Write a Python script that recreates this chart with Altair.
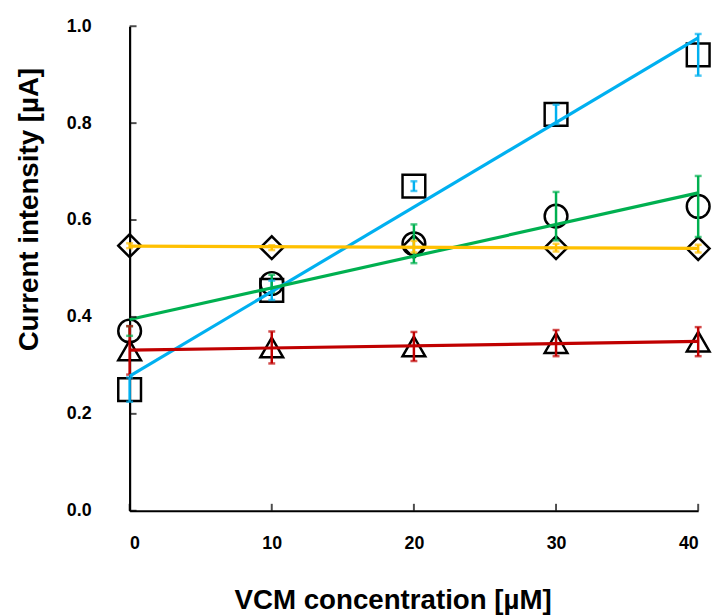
import altair as alt
import pandas as pd

# ---- data ----
conc = [0, 10, 20, 30, 40]
series_names = ["square", "circle", "diamond", "triangle"]
square_y = [0.250, 0.455, 0.670, 0.818, 0.941]
square_err = [0.025, 0.020, 0.010, 0.020, 0.043]
circle_y = [0.371, 0.469, 0.551, 0.608, 0.628]
circle_err = [0.010, 0.018, 0.040, 0.050, 0.063]
diamond_y = [0.547, 0.543, 0.545, 0.543, 0.541]
diamond_err = [0.005, 0.005, 0.012, 0.008, 0.008]
triangle_y = [0.331, 0.337, 0.339, 0.346, 0.349]
triangle_err = [0.050, 0.033, 0.030, 0.027, 0.030]

line_colors = ["#00B0F0", "#00B050", "#FFC000", "#C00000"]
shapes = ["square", "circle", "diamond", "triangle-up"]
sizes = [529, 529, 784, 841]

y_ticks = [0.0, 0.2, 0.4, 0.6, 0.8, 1.0]
x_ticks = [0, 10, 20, 30, 40]

rows = []
for name, ys, es in [("square", square_y, square_err), ("circle", circle_y, circle_err),
                     ("diamond", diamond_y, diamond_err), ("triangle", triangle_y, triangle_err)]:
    for x, y, e in zip(conc, ys, es):
        rows.append({"series": name, "x": x, "y": y, "lo": y - e, "hi": y + e})
df = pd.DataFrame(rows)

W, H = 575, 490

xs = alt.Scale(domain=[0, 40], nice=False, zero=False)
ys = alt.Scale(domain=[0, 1.0], nice=False)

color = alt.Color("series:N", scale=alt.Scale(domain=series_names, range=line_colors), legend=None)

base = alt.Chart(df)

xaxis = alt.Axis(values=x_ticks, format="d", title="VCM concentration [µM]",
                 labelPadding=24, titleX=266, titleY=91, titleBaseline="middle",
                 titleAlign="center")
yaxis = alt.Axis(values=y_ticks, format=".1f", title="Current intensity [µA]",
                 labelPadding=39, titleX=-101, titleY=185, titleBaseline="middle",
                 titleAlign="center", titleAngle=270)

markers = base.mark_point(filled=False, stroke="black", strokeWidth=2.5, opacity=1).encode(
    x=alt.X("x:Q", scale=xs, axis=xaxis),
    y=alt.Y("y:Q", scale=ys, axis=yaxis),
    shape=alt.Shape("series:N", scale=alt.Scale(domain=series_names, range=shapes), legend=None),
    size=alt.Size("series:N", scale=alt.Scale(domain=series_names, range=sizes), legend=None),
)

err_rule = base.mark_rule(strokeWidth=2.5).encode(
    x=alt.X("x:Q", scale=xs), y=alt.Y("lo:Q", scale=ys), y2="hi:Q", color=color)
cap_lo = base.mark_tick(orient="horizontal", size=7, thickness=2.5).encode(
    x=alt.X("x:Q", scale=xs), y=alt.Y("lo:Q", scale=ys), color=color)
cap_hi = base.mark_tick(orient="horizontal", size=7, thickness=2.5).encode(
    x=alt.X("x:Q", scale=xs), y=alt.Y("hi:Q", scale=ys), color=color)

trend = base.transform_regression("x", "y", groupby=["series"], extent=[0, 40]).mark_line(
    strokeWidth=3.2).encode(x=alt.X("x:Q", scale=xs), y=alt.Y("y:Q", scale=ys), color=color)

ytick_df = pd.DataFrame({"v": y_ticks, "z": [0] * len(y_ticks)})
xtick_df = pd.DataFrame({"v": x_ticks, "z": [0] * len(x_ticks)})
ytick_marks = alt.Chart(ytick_df).mark_tick(orient="horizontal", size=7, thickness=2,
                                            color="black", xOffset=3.5).encode(
    x=alt.X("z:Q", scale=xs), y=alt.Y("v:Q", scale=ys))
xtick_marks = alt.Chart(xtick_df).mark_tick(orient="vertical", size=7, thickness=2,
                                            color="black", yOffset=-3.5).encode(
    x=alt.X("v:Q", scale=xs), y=alt.Y("z:Q", scale=ys))

chart = alt.layer(markers, err_rule, cap_lo, cap_hi, trend, ytick_marks, xtick_marks).properties(
    width=W, height=H,
    background="white",
    autosize=alt.AutoSizeParams(type="none"),
    padding={"left": 123, "top": 15, "right": 16, "bottom": 102},
).configure_view(stroke=None).configure_axis(
    grid=False, ticks=False, tickSize=0,
    domainColor="black", domainWidth=2.2,
    labelFont="Liberation Sans", labelFontWeight="bold", labelFontSize=18, labelColor="black",
    titleFont="Liberation Sans", titleFontWeight="bold", titleFontSize=28, titleColor="black",
)

chart.save("out.html", embed_options={"renderer": "svg", "actions": False})
